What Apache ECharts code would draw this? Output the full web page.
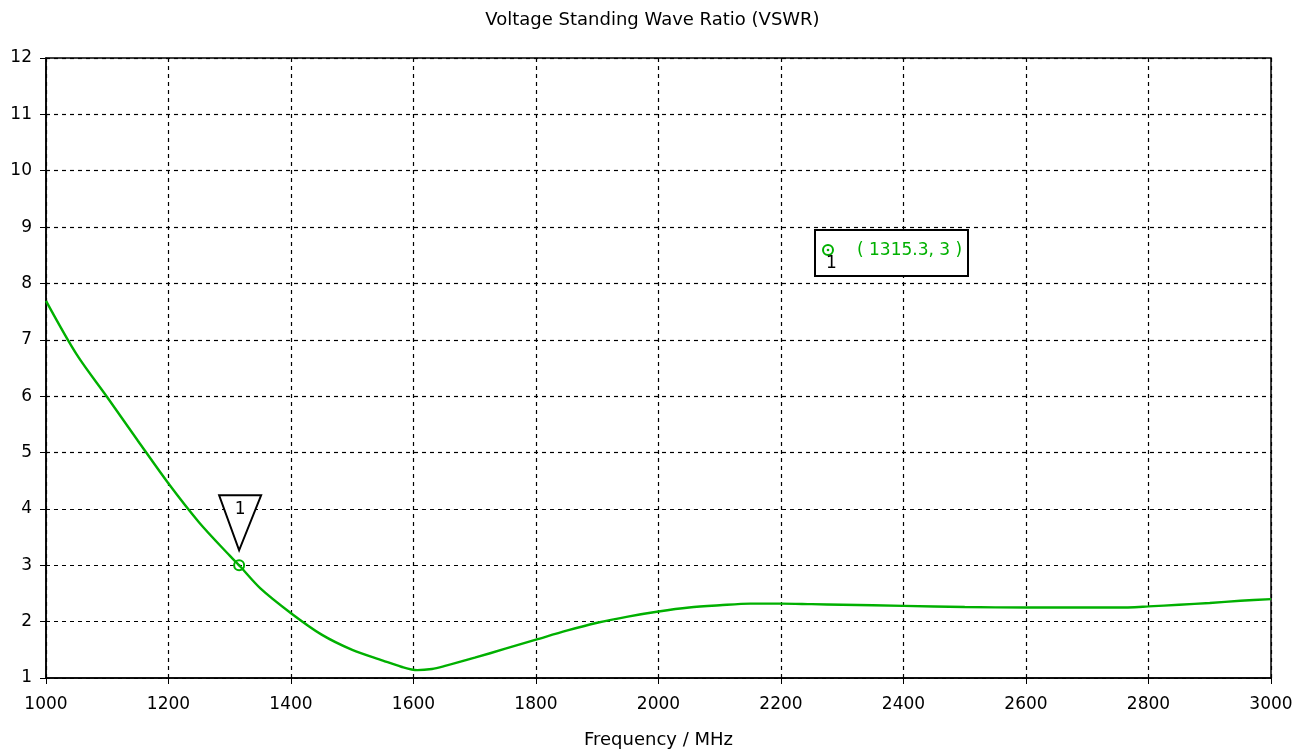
<!DOCTYPE html>
<html>
<head>
<meta charset="utf-8">
<script src="https://cdn.jsdelivr.net/npm/echarts@6/dist/echarts.min.js"></script>
<style>
html,body{margin:0;padding:0;background:#fff;}
#chart{width:1305px;height:750px;}
</style>
</head>
<body>
<div id="chart"></div>
<script>
// VSWR sweep, frequency in MHz
const freqs = [1000,1050,1100,1150,1200,1250,1300,1315.3,1350,1400,1450,1500,1550,1580,1606,1630,1650,1700,1750,1800,1850,1900,1950,2000,2050,2100,2150,2200,2250,2300,2400,2500,2600,2700,2750,2800,2850,2900,2950,3000];
const vswr  = [7.69,6.74,5.98,5.21,4.45,3.76,3.17,3.00,2.59,2.15,1.77,1.50,1.31,1.20,1.14,1.16,1.21,1.36,1.52,1.68,1.84,1.98,2.09,2.18,2.25,2.29,2.32,2.32,2.31,2.30,2.28,2.26,2.25,2.25,2.25,2.27,2.30,2.33,2.37,2.40];
const xTicks = [1000,1200,1400,1600,1800,2000,2200,2400,2600,2800,3000];
const yTicks = [1,2,3,4,5,6,7,8,9,10,11,12];
const marker = { id: '1', freq: 1315.3, value: 3 };

const green = '#00b000';
const font = 'Tahoma, "DejaVu Sans", sans-serif';

const chart = echarts.init(document.getElementById('chart'));
chart.setOption({
  animation: false,
  backgroundColor: '#fff',
  title: {
    text: 'Voltage Standing Wave Ratio (VSWR)',
    left: 'center', top: 6,
    textStyle: { fontFamily: font, fontSize: 18, fontWeight: 'normal', color: '#000' }
  },
  grid: {
    left: 46, right: 34, top: 58, bottom: 72,
    outerBoundsMode: 'none',
    show: true, borderColor: '#000', borderWidth: 1.5, backgroundColor: '#fff'
  },
  xAxis: {
    type: 'value', min: xTicks[0], max: xTicks[xTicks.length - 1], interval: 200,
    name: 'Frequency / MHz', nameLocation: 'middle', nameGap: 53,
    nameTextStyle: { fontFamily: font, fontSize: 18, color: '#000' },
    axisLine: { show: true, lineStyle: { color: '#000', width: 1.5 } },
    axisTick: { show: true, length: 6, inside: false, lineStyle: { color: '#000' } },
    axisLabel: { fontFamily: font, fontSize: 17, color: '#000', margin: 18, formatter: v => String(v) },
    splitLine: { show: true, lineStyle: { color: '#000', type: [4, 4], width: 1.2 } }
  },
  yAxis: {
    type: 'value', min: yTicks[0], max: yTicks[yTicks.length - 1], interval: 1,
    axisLine: { show: true, lineStyle: { color: '#000', width: 1.5 } },
    axisTick: { show: true, length: 6, inside: false, lineStyle: { color: '#000' } },
    axisLabel: { fontFamily: font, fontSize: 17, color: '#000', margin: 14, formatter: v => String(v) },
    splitLine: { show: true, lineStyle: { color: '#000', type: [4, 4], width: 1.2 } }
  },
  series: [{
    type: 'line',
    data: freqs.map((f, i) => [f, vswr[i]]),
    smooth: 0.3,
    showSymbol: false,
    lineStyle: { color: green, width: 2.4 },
    z: 3
  }]
});

// Marker 1: ring on the curve, triangle flag above it, readout box in the plot
const p = chart.convertToPixel({ gridIndex: 0 }, [marker.freq, marker.value]);
const boxX = 815, boxY = 230;
chart.setOption({
  graphic: [
    { type: 'circle', shape: { cx: p[0], cy: p[1], r: 5 }, style: { fill: 'none', stroke: green, lineWidth: 2 }, z: 10 },
    { type: 'circle', shape: { cx: p[0], cy: p[1], r: 1.3 }, style: { fill: green }, z: 10 },
    { type: 'polygon', shape: { points: [[p[0] - 20, p[1] - 70], [p[0] + 22, p[1] - 70], [p[0], p[1] - 15]] },
      style: { fill: '#fff', stroke: '#000', lineWidth: 2 }, z: 10 },
    { type: 'text', x: p[0] + 1, y: p[1] - 64, style: { text: marker.id, font: '17px ' + font, fill: '#000', align: 'center' }, z: 11 },
    { type: 'rect', shape: { x: boxX, y: boxY, width: 153, height: 46 }, style: { fill: '#fff', stroke: '#000', lineWidth: 2 }, z: 10 },
    { type: 'circle', shape: { cx: boxX + 13, cy: boxY + 20, r: 5 }, style: { fill: 'none', stroke: green, lineWidth: 2 }, z: 11 },
    { type: 'circle', shape: { cx: boxX + 13, cy: boxY + 20, r: 1.3 }, style: { fill: green }, z: 11 },
    { type: 'text', x: boxX + 11, y: boxY + 25, style: { text: marker.id, font: '17px ' + font, fill: '#000' }, z: 11 },
    { type: 'text', x: boxX + 42, y: boxY + 12, style: { text: '( ' + marker.freq + ', ' + marker.value + ' )', font: '17px ' + font, fill: green }, z: 11 }
  ]
});
</script>
</body>
</html>
